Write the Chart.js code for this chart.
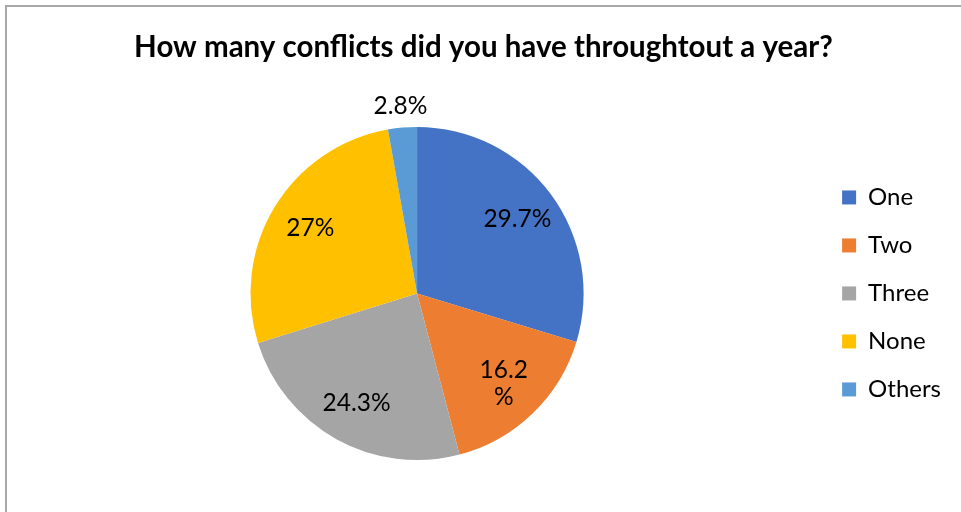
<!DOCTYPE html>
<html>
<head>
<meta charset="utf-8">
<script src="https://cdn.jsdelivr.net/npm/chart.js@4"></script>
<style>
  html, body { margin: 0; padding: 0; background: #fff; }
  #wrap { width: 961px; height: 512px; }
</style>
</head>
<body>
<div id="wrap"><canvas id="pie"></canvas></div>
<script>
// ---------- DATA ----------
const categories = ['One', 'Two', 'Three', 'None', 'Others'];
const shares = [29.7, 16.2, 24.3, 27, 2.8];
const sliceColors = ['#4472C4', '#ED7D31', '#A5A5A5', '#FFC000', '#5B9BD5'];
const titleText = 'How many conflicts did you have throughtout a year?';
// labels Excel broke onto two lines
const wrappedLabels = { 'Two': ['16.2', '%'] };

const FONT = 'Lato, "Open Sans", sans-serif';

// outer frame (only top + left show in the reference)
const framePlugin = {
    id: 'frame',
    beforeDraw(chart) {
        const ctx = chart.ctx;
        ctx.save();
        ctx.fillStyle = '#a8a8a8';
        ctx.fillRect(5, 5, chart.width - 5, 2);
        ctx.fillRect(5, 5, 2, chart.height - 5);
        ctx.restore();
    }
};

// percentage labels placed on the slices
const sliceLabels = {
    id: 'sliceLabels',
    afterDatasetsDraw(chart) {
        const ctx = chart.ctx;
        const meta = chart.getDatasetMeta(0);
        ctx.save();
        ctx.font = '24.5px ' + FONT;
        ctx.fillStyle = '#000';
        ctx.textAlign = 'center';
        ctx.textBaseline = 'middle';
        meta.data.forEach((arc, i) => {
            const p = arc.getProps(['x', 'y', 'startAngle', 'endAngle', 'outerRadius'], true);
            const mid = (p.startAngle + p.endAngle) / 2;
            const r = shares[i] < 5 ? p.outerRadius + 22 : p.outerRadius * 0.75;
            const x = p.x + Math.cos(mid) * r;
            const y = p.y + Math.sin(mid) * r;
            const lines = wrappedLabels[categories[i]] || [shares[i] + '%'];
            const lh = 27;
            lines.forEach((t, k) => {
                ctx.fillText(t, x, y + (k - (lines.length - 1) / 2) * lh);
            });
        });
        ctx.restore();
    }
};

new Chart(document.getElementById('pie'), {
    type: 'pie',
    data: {
        labels: categories,
        datasets: [{
            data: shares,
            backgroundColor: sliceColors,
            borderWidth: 0
        }]
    },
    options: {
        responsive: true,
        maintainAspectRatio: false,
        animation: false,
        layout: { padding: { left: 16, right: 10, bottom: 52 } },
        plugins: {
            title: {
                display: true,
                text: titleText,
                color: '#000',
                font: { family: FONT, size: 29.5, weight: 'bold', lineHeight: 1.2 },
                padding: { top: 30, bottom: 61.5 }
            },
            legend: {
                position: 'right',
                fullSize: false,
                labels: {
                    color: '#000',
                    font: { family: FONT, size: 24 },
                    boxWidth: 14,
                    boxHeight: 14,
                    padding: 24
                }
            },
            tooltip: { enabled: false }
        }
    },
    plugins: [framePlugin, sliceLabels]
});
</script>
</body>
</html>
